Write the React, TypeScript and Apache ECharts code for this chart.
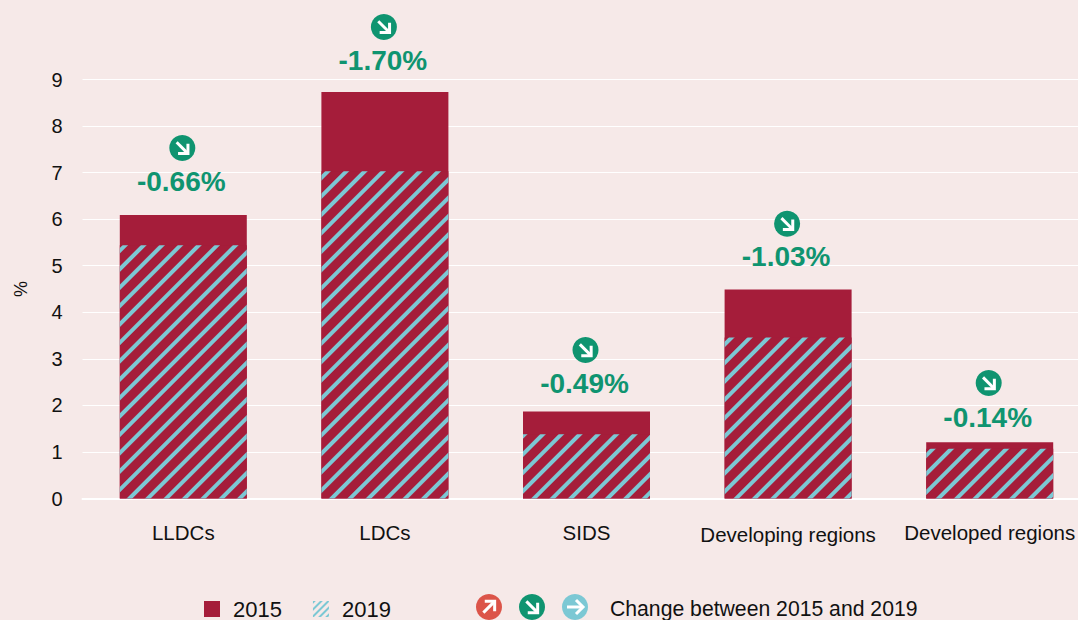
import React, { useEffect, useRef } from "react";
import * as echarts from "echarts";

const categories = ["LLDCs", "LDCs", "SIDS", "Developing regions", "Developed regions"];
const values2015 = [6.09, 8.73, 1.87, 4.49, 1.21];
const values2019 = [5.44, 7.03, 1.38, 3.46, 1.07];
const changeLabels = ["-0.66%", "-1.70%", "-0.49%", "-1.03%", "-0.14%"];
const labelLevels = [6.8, 9.4, 2.46, 5.19, 1.75];
const badgeLevels = [7.53, 10.13, 3.19, 5.9, 2.48];

const BG = "#f6e9e8";
const RED = "#a51d3a";
const BLUE = "#7cc8d4";
const GREEN = "#0f9470";
const ORANGE = "#dc5449";
const FONT = "'Liberation Sans', Arial, sans-serif";

const hatch = {
  symbol: "rect",
  symbolSize: 1,
  dashArrayX: [1, 0],
  dashArrayY: [3.5, 8.5],
  rotation: -Math.PI / 4,
  color: BLUE,
};
const legendHatch = { ...hatch, dashArrayY: [2, 3] };

// Circle badge with a white arrow pointing along (dx, dy)
function badge(cx: number, cy: number, color: string, dx: number, dy: number) {
  const len = Math.hypot(dx, dy);
  const ux = dx / len;
  const uy = dy / len;
  const r = 8;
  const tip = [cx + ux * r, cy + uy * r];
  const tail = [cx - ux * r, cy - uy * r];
  const h = 7;
  const wing = (s: number) => [
    tip[0] - h * ux - s * h * uy,
    tip[1] - h * uy + s * h * ux,
  ];
  return [
    { type: "circle", shape: { cx, cy, r: 13 }, style: { fill: color }, silent: true },
    {
      type: "polyline",
      shape: { points: [tail, tip] },
      style: { stroke: "#fff", lineWidth: 3, fill: "none" },
      silent: true,
    },
    {
      type: "polyline",
      shape: { points: [wing(1), tip, wing(-1)] },
      style: { stroke: "#fff", lineWidth: 3, fill: "none" },
      silent: true,
    },
  ];
}

export default function App() {
  const ref = useRef<HTMLDivElement>(null);
  useEffect(() => {
    const chart = echarts.init(ref.current!, null, { renderer: "svg" });
    chart.setOption({
      animation: false,
      backgroundColor: BG,
      textStyle: { fontFamily: FONT },
      grid: { left: 82.5, top: 79.5, width: 1008, height: 419, outerBoundsMode: "none" },
      legend: {
        left: 204,
        top: 598,
        padding: 0,
        itemWidth: 16,
        itemHeight: 16,
        itemGap: 31,
        selectedMode: false,
        textStyle: { fontFamily: FONT, fontSize: 22, color: "#111", padding: [0, 0, 0, 8] },
        data: [
          { name: "2015", icon: "rect", itemStyle: { color: RED } },
          { name: "2019", icon: "rect", itemStyle: { color: "rgba(0,0,0,0)", decal: legendHatch } },
        ],
      },
      xAxis: {
        type: "category",
        data: categories,
        axisTick: { show: false },
        axisLine: { lineStyle: { color: "#fff", width: 2 } },
        axisLabel: {
          color: "#111",
          fontSize: 20.5,
          margin: 23,
          interval: 0,
          fontFamily: FONT,
          formatter: (v: string) => (v === "Developing regions" ? `{low|${v}}` : v),
          rich: {
            low: { color: "#111", fontSize: 20.5, fontFamily: FONT, padding: [2, 0, 0, 0] },
          },
        },
      },
      yAxis: {
        type: "value",
        min: 0,
        max: 9,
        interval: 1,
        name: "%",
        nameLocation: "middle",
        nameGap: 53,
        nameTextStyle: { color: "#111", fontSize: 18, fontFamily: FONT },
        axisLine: { show: false },
        axisTick: { show: false },
        axisLabel: { color: "#111", fontSize: 20, margin: 20, fontFamily: FONT },
        splitLine: { lineStyle: { color: "#fff", width: 1 } },
      },
      series: [
        {
          name: "2015",
          type: "bar",
          data: values2015,
          barWidth: 127,
          barGap: "-100%",
          itemStyle: { color: RED },
        },
        {
          name: "2019",
          type: "bar",
          data: values2019,
          barWidth: 127,
          barGap: "-100%",
          itemStyle: { color: RED, decal: hatch },
        },
        {
          name: "change",
          type: "custom",
          clip: false,
          silent: true,
          data: categories.map((_, i) => [i, badgeLevels[i], labelLevels[i]]),
          encode: { x: 0, y: 1 },
          renderItem: (params: any, api: any) => {
            const i = params.dataIndex;
            const b = api.coord([i, badgeLevels[i]]);
            const t = api.coord([i, labelLevels[i]]);
            return {
              type: "group",
              children: [
                ...badge(b[0] - 1, b[1], GREEN, 1, 1),
                {
                  type: "text",
                  style: {
                    x: t[0] - 2,
                    y: t[1],
                    text: changeLabels[i],
                    fill: GREEN,
                    font: `bold 28px ${FONT}`,
                    align: "center",
                    verticalAlign: "middle",
                  },
                },
              ],
            };
          },
        },
      ],
      graphic: [
        {
          type: "group",
          silent: true,
          children: [
            ...badge(489, 607, ORANGE, 1, -1),
            ...badge(532, 607, GREEN, 1, 1),
            ...badge(575, 607, BLUE, 1, 0),
          ],
        },
        {
          type: "text",
          left: 610,
          top: 598,
          style: {
            text: "Change between 2015 and 2019",
            fill: "#111",
            font: `21.2px ${FONT}`,
          },
        },
      ],
    });
    return () => chart.dispose();
  }, []);
  return (
    <div
      ref={ref}
      style={{ position: "absolute", left: 0, top: 0, width: 1078, height: 620 }}
    />
  );
}
